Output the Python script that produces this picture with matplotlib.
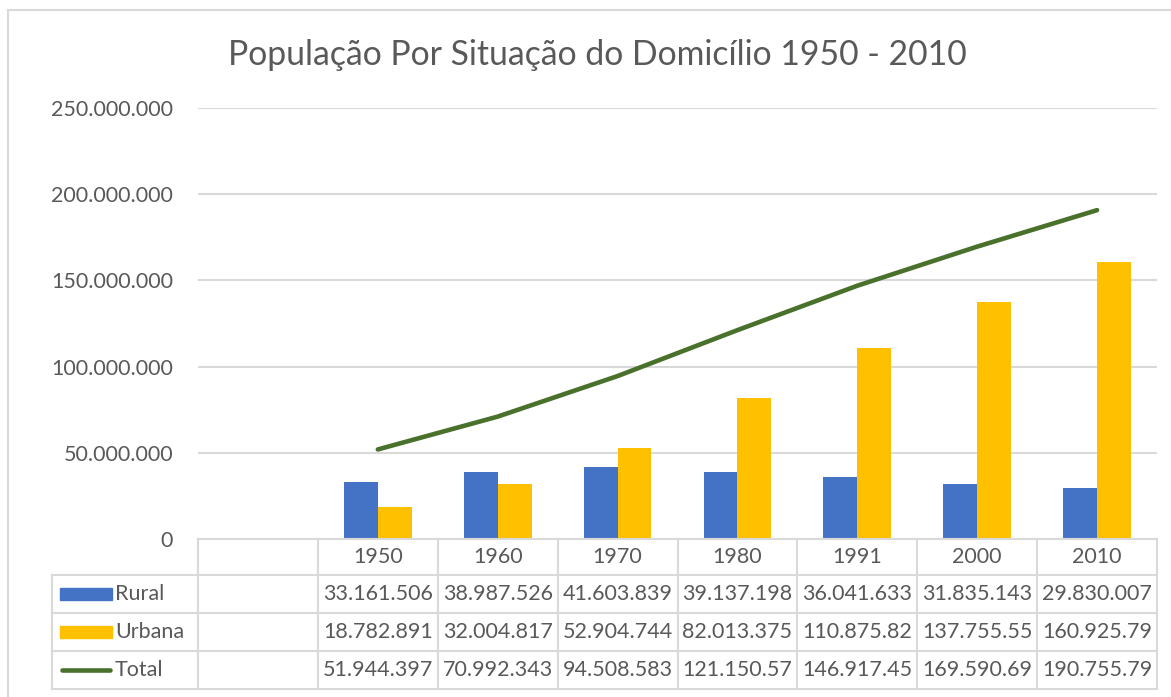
import matplotlib
matplotlib.use("Agg")
import matplotlib.pyplot as plt
from matplotlib.patches import Rectangle
from matplotlib.lines import Line2D
import numpy as np

# ---- data ----
categories = ["", "1950", "1960", "1970", "1980", "1991", "2000", "2010"]
years = ["1950", "1960", "1970", "1980", "1991", "2000", "2010"]
rural = [33161506, 38987526, 41603839, 39137198, 36041633, 31835143, 29830007]
urbana = [18782891, 32004817, 52904744, 82013375, 110875826, 137755550, 160925792]
total = [51944397, 70992343, 94508583, 121150573, 146917459, 169590693, 190755799]
series_names = ["Rural", "Urbana", "Total"]
yticks = [0, 50000000, 100000000, 150000000, 200000000, 250000000]
title = "População Por Situação do Domicílio 1950 - 2010"

# ---- style ----
W, H = 1171, 697
FONT = "Lato"
TXT = "#595959"
GRID = "#D9D9D9"
C_RURAL = "#4472C4"
C_URB = "#FFC000"
C_TOT = "#4A712C"
FS = 15.5

plt.rcParams["font.family"] = [FONT, "DejaVu Sans"]

fig = plt.figure(figsize=(W / 100, H / 100), dpi=100)

def fx(px):
    return px / W

def fy(py):
    return 1 - py / H

# outer chart border
fig.patches.append(Rectangle((fx(8), fy(700)), fx(1175) - fx(8), fy(10) - fy(700),
                             transform=fig.transFigure, fill=False, edgecolor=GRID, lw=1.5))

# plot area
L, R, T, B = 198, 1157, 108, 539
ax = fig.add_axes([fx(L), fy(B), fx(R) - fx(L), fy(T) - fy(B)])
ax.set_xlim(-0.5, len(categories) - 0.5)
ax.set_ylim(0, 250000000)
for s in ax.spines.values():
    s.set_visible(False)
ax.set_yticks(yticks)
ax.yaxis.grid(True, color=GRID, lw=1.5)
ax.set_axisbelow(True)
ax.tick_params(axis="y", length=0, pad=18, labelsize=FS, labelcolor=TXT)
ax.set_yticklabels([f"{v:,}".replace(",", ".") for v in yticks])
ax.set_xticks([])

x = np.arange(1, len(categories))
bw = 0.283
ax.bar(x - bw / 2, rural, width=bw, color=C_RURAL, zorder=2)
ax.bar(x + bw / 2, urbana, width=bw, color=C_URB, zorder=2)
ax.plot(x, total, color=C_TOT, lw=3.3, solid_capstyle="round", zorder=3)

# title
fig.text(fx(597), fy(55), title, ha="center", va="center", fontsize=24.3, color=TXT)

# ---- data table ----
col_edges = [L + i * (R - L) / len(categories) for i in range(len(categories) + 1)]
row_edges = [539, 575, 613, 651, 689]
leg_left = 52

def hline(y, x0, x1):
    fig.add_artist(Line2D([fx(x0), fx(x1)], [fy(y), fy(y)], transform=fig.transFigure,
                          color=GRID, lw=1.5))

def vline(xp, y0, y1):
    fig.add_artist(Line2D([fx(xp), fx(xp)], [fy(y0), fy(y1)], transform=fig.transFigure,
                          color=GRID, lw=1.5))

hline(row_edges[0], col_edges[0], col_edges[-1])
for y in row_edges[1:]:
    hline(y, leg_left, col_edges[-1])
for xp in col_edges:
    vline(xp, row_edges[0], row_edges[-1])
vline(leg_left, row_edges[1], row_edges[-1])

def fmt(v):
    return f"{v:,}".replace(",", ".")[:10]

# header
for i, c in enumerate(categories):
    cx = (col_edges[i] + col_edges[i + 1]) / 2
    fig.text(fx(cx), fy((row_edges[0] + row_edges[1]) / 2), c, ha="center", va="center",
             fontsize=FS, color=TXT)

rows = [rural, urbana, total]
for r, vals in enumerate(rows):
    cy = (row_edges[r + 1] + row_edges[r + 2]) / 2
    for j, v in enumerate(vals):
        i = j + 1
        cx = (col_edges[i] + col_edges[i + 1]) / 2
        fig.text(fx(cx), fy(cy), fmt(v), ha="center", va="center", fontsize=FS, color=TXT)
    # legend key
    if r < 2:
        col = C_RURAL if r == 0 else C_URB
        fig.patches.append(Rectangle((fx(60), fy(cy + 6)), fx(112) - fx(60), fy(cy - 6) - fy(cy + 6),
                                     transform=fig.transFigure, color=col))
    else:
        fig.add_artist(Line2D([fx(62), fx(110)], [fy(cy), fy(cy)], transform=fig.transFigure,
                              color=C_TOT, lw=3.3, solid_capstyle="round"))
    fig.text(fx(115), fy(cy), series_names[r], ha="left", va="center", fontsize=FS, color=TXT)

fig.savefig("out.png", dpi=100)
